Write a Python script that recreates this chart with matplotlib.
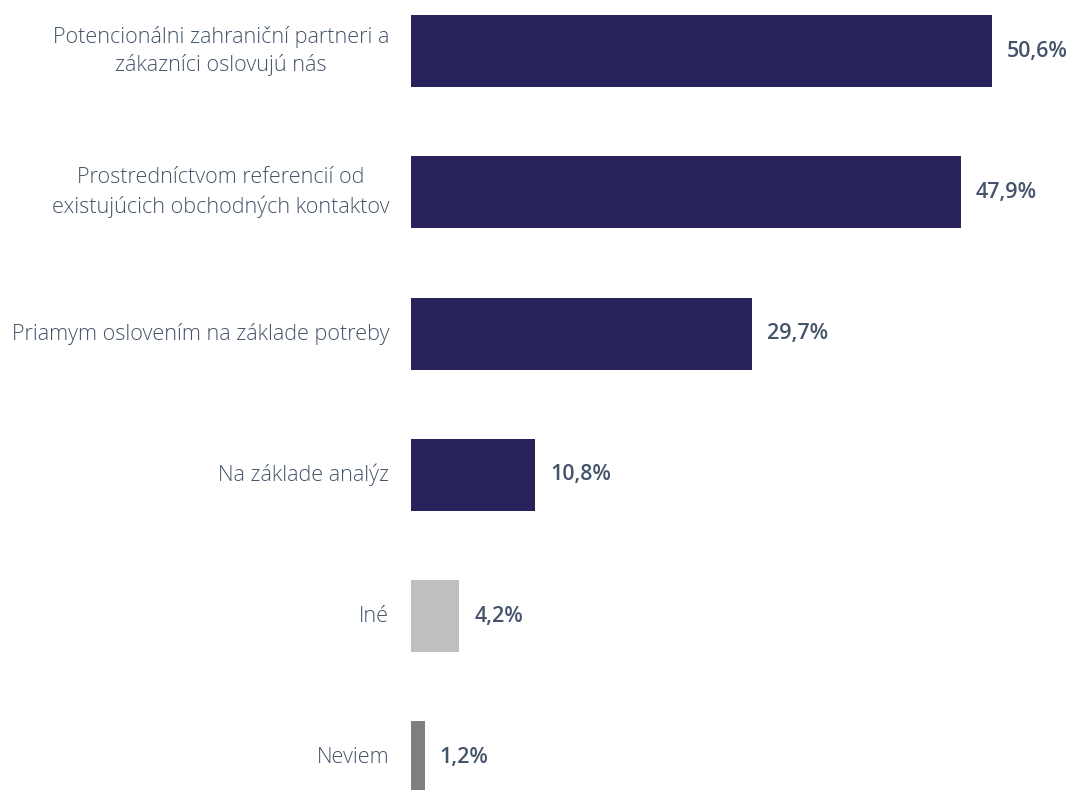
import matplotlib.pyplot as plt

categories = [
    "Potencionálni zahraniční partneri a\nzákazníci oslovujú nás",
    "Prostredníctvom referencií od\nexistujúcich obchodných kontaktov",
    "Priamym oslovením na základe potreby",
    "Na základe analýz",
    "Iné",
    "Neviem",
]
values = [50.6, 47.9, 29.7, 10.8, 4.2, 1.2]
value_labels = ["50,6%", "47,9%", "29,7%", "10,8%", "4,2%", "1,2%"]

NAVY = "#29235C"
bar_colors = [NAVY, NAVY, NAVY, NAVY, "#BFBFBF", "#7F7F7F"]
TEXT = "#44546A"

fig = plt.figure(figsize=(10.7, 7.9), dpi=100)
ax = fig.add_axes([0.3841, 0, 0.6159, 1])

ypos = list(range(len(values)))
ax.barh(ypos, values, height=0.51, color=bar_colors)

for y, v, lab, cat in zip(ypos, values, value_labels, categories):
    # value at the bar end, category name to the left of the bar
    ax.annotate(lab, xy=(v, y), xytext=(10.8, 0), textcoords="offset points",
                ha="left", va="center", fontsize=15.5, color=TEXT,
                family="Open Sans", fontweight="semibold")
    ax.annotate(cat, xy=(0, y), xytext=(-15.8, 0), textcoords="offset points",
                ha="right", va="center", multialignment="center",
                fontsize=15.6, color=TEXT, family="Open Sans", fontweight="light",
                linespacing=1.4)

ax.set_xlim(0, 57.4)
ax.set_ylim(5.23, -0.361)
ax.axis("off")

fig.savefig("out.png", dpi=100)
